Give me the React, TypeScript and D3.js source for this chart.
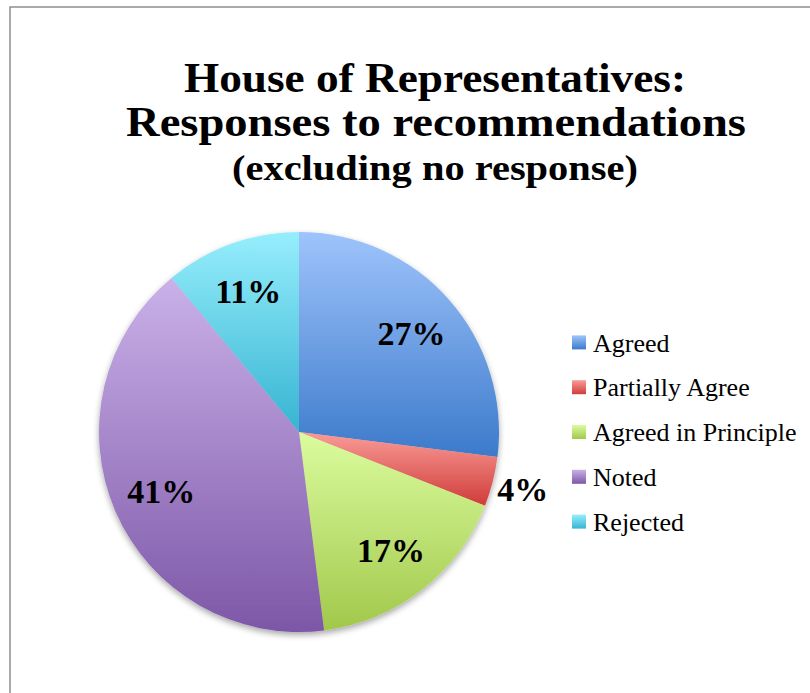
import React from "react";
import * as d3 from "d3";

const categories = ["Agreed", "Partially Agree", "Agreed in Principle", "Noted", "Rejected"];
const values = [27, 4, 17, 41, 11];
const labels = ["27%", "4%", "17%", "41%", "11%"];
const topColors = ["#9ec4fb", "#f99c97", "#dbfc9e", "#cab1e9", "#96eefc"];
const bottomColors = ["#3c7acb", "#d03c3a", "#a1c84b", "#7d57a7", "#37b4d2"];
const outside = [false, true, false, false, false];

const W = 810;
const H = 693;
const cx = 299;
const cy = 432;
const R = 200;

export default function App() {
  const pie = d3.pie<number>().sort(null).value((d) => d)(values);
  const arc = d3.arc<d3.PieArcDatum<number>>().innerRadius(0).outerRadius(R);
  const inLabel = d3.arc<d3.PieArcDatum<number>>().innerRadius(150).outerRadius(150);
  const outLabel = d3.arc<d3.PieArcDatum<number>>().innerRadius(231).outerRadius(231);
  const legendY = d3.scaleBand<string>().domain(categories).range([320, 544]);

  return (
    <svg
      width={W}
      height={H}
      style={{ position: "absolute", left: 0, top: 0, background: "#fff" }}
      fontFamily="'Liberation Serif', serif"
    >
      <defs>
        {categories.map((c, i) => (
          <linearGradient key={c} id={`g${i}`} x1="0" y1="0" x2="0" y2="1">
            <stop offset="0%" stopColor={topColors[i]} />
            <stop offset="100%" stopColor={bottomColors[i]} />
          </linearGradient>
        ))}
        <filter id="shadow" x="-20%" y="-20%" width="140%" height="140%">
          <feDropShadow dx="0" dy="3" stdDeviation="3" floodColor="#000" floodOpacity="0.35" />
        </filter>
      </defs>
      <rect x={10} y={7} width={W + 20} height={H + 20} fill="#fff" stroke="#8f8f8f" strokeWidth={1.5} />
      <g textAnchor="middle" fontWeight="bold" fill="#000">
        <text x={435} y={92} fontSize={42} textLength={502} lengthAdjust="spacingAndGlyphs">House of Representatives:</text>
        <text x={436} y={136} fontSize={42} textLength={620} lengthAdjust="spacingAndGlyphs">Responses to recommendations</text>
        <text x={435} y={180} fontSize={36} textLength={406} lengthAdjust="spacingAndGlyphs">(excluding no response)</text>
      </g>
      <g transform={`translate(${cx},${cy})`}>
        <g filter="url(#shadow)">
          {pie.map((p, i) => (
            <path key={i} d={arc(p) || ""} fill={`url(#g${i})`} />
          ))}
        </g>
        {pie.map((p, i) => {
          const [x, y] = (outside[i] ? outLabel : inLabel).centroid(p);
          return (
            <text key={i} x={x} y={y} dy="0.35em" textAnchor="middle" fontWeight="bold" fontSize={34}>
              {labels[i]}
            </text>
          );
        })}
      </g>
      <g>
        {categories.map((c, i) => {
          const y = (legendY(c) || 0) + legendY.bandwidth() / 2;
          return (
            <g key={c}>
              <rect x={572} y={y - 7} width={14} height={14} fill={`url(#g${i})`} />
              <text x={593} y={y} dy="0.35em" fontSize={26}>{c}</text>
            </g>
          );
        })}
      </g>
    </svg>
  );
}
